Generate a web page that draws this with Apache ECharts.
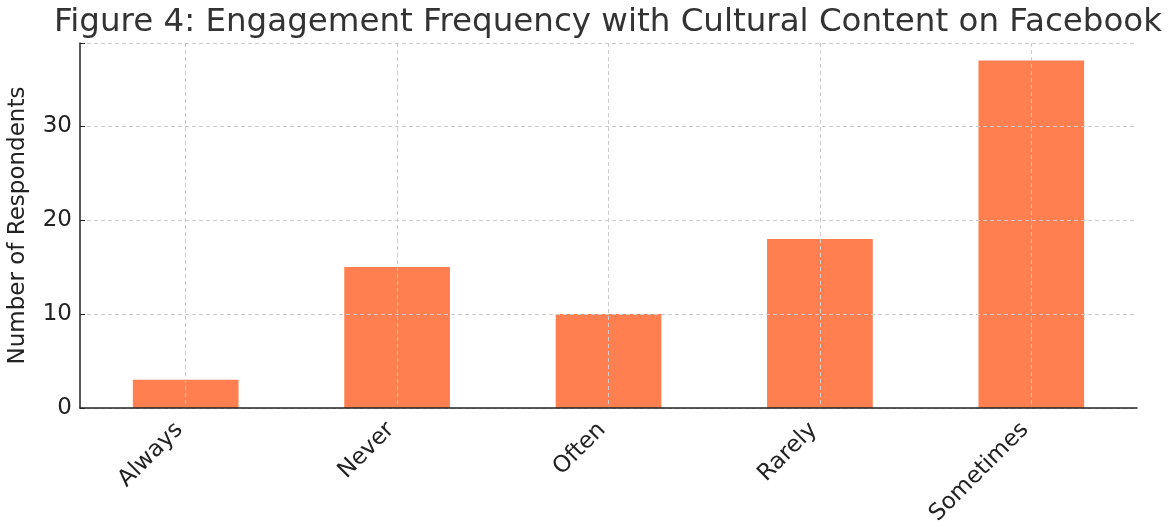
<!DOCTYPE html>
<html>
<head>
<meta charset="utf-8">
<script src="https://cdn.jsdelivr.net/npm/echarts@6/dist/echarts.min.js"></script>
<style>
  html, body { margin: 0; padding: 0; background: #fff; }
  #chart { width: 1170px; height: 527px; }
</style>
</head>
<body>
<div id="chart"></div>
<script>
// Engagement frequency categories and respondent counts
const categories = ['Always', 'Never', 'Often', 'Rarely', 'Sometimes'];
const respondents = [3, 15, 10, 18, 37];
const yTicks = [0, 10, 20, 30];

const font = 'DejaVu Sans';
const chart = echarts.init(document.getElementById('chart'));

chart.setOption({
  animation: false,
  backgroundColor: '#ffffff',
  title: {
    text: 'Figure 4: Engagement Frequency with Cultural Content on Facebook',
    left: 603,
    top: 1,
    textAlign: 'center',
    textStyle: { fontFamily: font, fontSize: 32.5, fontWeight: 'normal', color: '#333333' }
  },
  grid: { left: 80, right: 33, top: 43, bottom: 119, containLabel: false, outerBoundsMode: 'none' },
  xAxis: {
    type: 'category',
    data: categories,
    z: 10,
    axisLine: { lineStyle: { color: '#222222', width: 1.5 } },
    axisTick: { alignWithLabel: true, inside: true, length: 6, lineStyle: { color: '#222222' } },
    axisLabel: { rotate: 45, margin: 12, padding: [0, 9, 0, 0], fontFamily: font, fontSize: 23, color: '#222222' },
    splitLine: { show: true, alignWithLabel: true, lineStyle: { color: '#cccccc', type: [4, 3], width: 1 } }
  },
  yAxis: {
    type: 'value',
    min: 0,
    max: 38.85,
    interval: 10,
    z: 10,
    name: 'Number of Respondents',
    nameLocation: 'middle',
    nameGap: 50,
    nameTextStyle: { fontFamily: font, fontSize: 23, color: '#222222' },
    axisLine: { show: true, lineStyle: { color: '#222222', width: 1.5 } },
    axisTick: { show: true, inside: true, length: 5, lineStyle: { color: '#222222' } },
    axisLabel: {
      fontFamily: font, fontSize: 23, color: '#222222', margin: 8,
      formatter: v => (yTicks.includes(v) ? String(v) : '')
    },
    splitLine: { show: true, lineStyle: { color: '#cccccc', type: [4, 3], width: 1 } }
  },
  series: [{
    type: 'bar',
    data: respondents,
    barWidth: '50%',
    z: 1,
    itemStyle: { color: '#FF7F50' }
  }]
});
</script>
</body>
</html>
